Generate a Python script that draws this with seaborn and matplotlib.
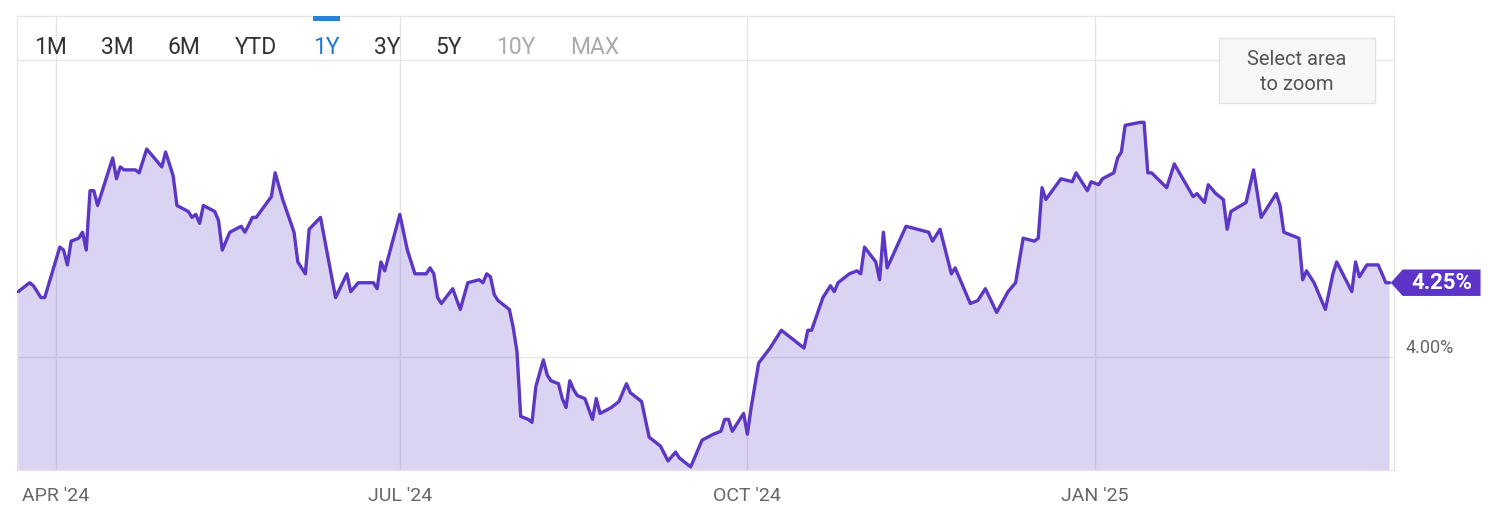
import matplotlib
matplotlib.use("Agg")
import matplotlib.pyplot as plt
from matplotlib.path import Path
from matplotlib.patches import Rectangle
from matplotlib import font_manager as fm
import seaborn as sns
import pandas as pd

# ---------------- data (10-year yield, %) ----------------
dates = [
    "2024-03-22", "2024-03-25", "2024-03-26", "2024-03-28", "2024-03-29",
    "2024-04-02", "2024-04-03", "2024-04-04", "2024-04-05", "2024-04-07",
    "2024-04-08", "2024-04-09", "2024-04-10", "2024-04-11", "2024-04-12",
    "2024-04-16", "2024-04-17", "2024-04-18", "2024-04-19", "2024-04-22",
    "2024-04-23", "2024-04-25", "2024-04-27", "2024-04-29", "2024-04-30",
    "2024-05-02", "2024-05-03", "2024-05-06", "2024-05-07", "2024-05-08",
    "2024-05-09", "2024-05-10", "2024-05-13", "2024-05-14", "2024-05-15",
    "2024-05-17", "2024-05-20", "2024-05-21", "2024-05-23", "2024-05-24",
    "2024-05-28", "2024-05-29", "2024-05-31", "2024-06-03", "2024-06-04",
    "2024-06-06", "2024-06-07", "2024-06-10", "2024-06-14", "2024-06-17",
    "2024-06-18", "2024-06-20", "2024-06-24", "2024-06-25", "2024-06-26",
    "2024-06-27", "2024-07-01", "2024-07-03", "2024-07-05", "2024-07-08",
    "2024-07-09", "2024-07-10", "2024-07-11", "2024-07-12", "2024-07-15",
    "2024-07-17", "2024-07-19", "2024-07-22", "2024-07-23", "2024-07-24",
    "2024-07-25", "2024-07-26", "2024-07-27", "2024-07-30", "2024-07-31",
    "2024-08-01", "2024-08-02", "2024-08-04", "2024-08-05", "2024-08-06",
    "2024-08-08", "2024-08-09", "2024-08-10", "2024-08-12", "2024-08-13",
    "2024-08-14", "2024-08-15", "2024-08-16", "2024-08-17", "2024-08-19",
    "2024-08-21", "2024-08-22", "2024-08-23", "2024-08-26", "2024-08-28",
    "2024-08-30", "2024-08-31", "2024-09-03", "2024-09-05", "2024-09-08",
    "2024-09-10", "2024-09-12", "2024-09-13", "2024-09-16", "2024-09-19",
    "2024-09-22", "2024-09-24", "2024-09-25", "2024-09-26", "2024-09-27",
    "2024-09-30", "2024-10-01", "2024-10-02", "2024-10-04", "2024-10-07",
    "2024-10-10", "2024-10-16", "2024-10-17", "2024-10-18", "2024-10-21",
    "2024-10-23", "2024-10-24", "2024-10-25", "2024-10-28", "2024-10-30",
    "2024-10-31", "2024-11-01", "2024-11-04", "2024-11-05", "2024-11-06",
    "2024-11-07", "2024-11-12", "2024-11-15", "2024-11-18", "2024-11-19",
    "2024-11-21", "2024-11-24", "2024-11-25", "2024-11-29", "2024-12-01",
    "2024-12-03", "2024-12-06", "2024-12-09", "2024-12-11", "2024-12-13",
    "2024-12-16", "2024-12-17", "2024-12-18", "2024-12-19", "2024-12-23",
    "2024-12-26", "2024-12-27", "2024-12-30", "2024-12-31", "2025-01-02",
    "2025-01-03", "2025-01-06", "2025-01-07", "2025-01-08", "2025-01-09",
    "2025-01-13", "2025-01-14", "2025-01-15", "2025-01-16", "2025-01-20",
    "2025-01-22", "2025-01-27", "2025-01-28", "2025-01-30", "2025-01-31",
    "2025-02-02", "2025-02-04", "2025-02-05", "2025-02-06", "2025-02-10",
    "2025-02-12", "2025-02-14", "2025-02-18", "2025-02-19", "2025-02-20",
    "2025-02-24", "2025-02-25", "2025-02-26", "2025-02-28", "2025-03-03",
    "2025-03-05", "2025-03-06", "2025-03-10", "2025-03-11", "2025-03-12",
    "2025-03-14", "2025-03-17", "2025-03-19", "2025-03-20",
]
yields = [
    4.22, 4.25, 4.24, 4.20, 4.20,
    4.37, 4.36, 4.31, 4.39, 4.40,
    4.42, 4.36, 4.56, 4.56, 4.51,
    4.67, 4.60, 4.64, 4.63, 4.63,
    4.62, 4.70, 4.67, 4.64, 4.69,
    4.61, 4.51, 4.49, 4.47, 4.48,
    4.45, 4.51, 4.49, 4.46, 4.36,
    4.42, 4.44, 4.42, 4.47, 4.47,
    4.54, 4.62, 4.53, 4.42, 4.32,
    4.28, 4.43, 4.47, 4.20, 4.28,
    4.22, 4.25, 4.25, 4.23, 4.32,
    4.29, 4.48, 4.36, 4.28, 4.28,
    4.30, 4.28, 4.20, 4.18, 4.23,
    4.16, 4.25, 4.26, 4.25, 4.28,
    4.27, 4.21, 4.19, 4.16, 4.10,
    4.02, 3.80, 3.79, 3.78, 3.90,
    3.99, 3.94, 3.92, 3.91, 3.86,
    3.83, 3.92, 3.89, 3.87, 3.86,
    3.79, 3.86, 3.81, 3.83, 3.85,
    3.91, 3.88, 3.85, 3.73, 3.70,
    3.65, 3.68, 3.66, 3.63, 3.72,
    3.74, 3.75, 3.79, 3.79, 3.75,
    3.81, 3.74, 3.83, 3.98, 4.03,
    4.09, 4.03, 4.09, 4.09, 4.20,
    4.24, 4.22, 4.25, 4.28, 4.29,
    4.28, 4.37, 4.32, 4.26, 4.42,
    4.30, 4.44, 4.43, 4.42, 4.39,
    4.43, 4.28, 4.30, 4.18, 4.19,
    4.23, 4.15, 4.22, 4.25, 4.40,
    4.39, 4.40, 4.57, 4.53, 4.60,
    4.59, 4.62, 4.56, 4.59, 4.58,
    4.60, 4.62, 4.67, 4.69, 4.78,
    4.79, 4.79, 4.62, 4.62, 4.57,
    4.65, 4.54, 4.55, 4.52, 4.58,
    4.55, 4.53, 4.43, 4.49, 4.52,
    4.63, 4.47, 4.55, 4.51, 4.42,
    4.40, 4.26, 4.29, 4.25, 4.16,
    4.28, 4.32, 4.22, 4.32, 4.27,
    4.31, 4.31, 4.25, 4.25,
]
tick_dates = ["2024-04-01", "2024-07-01", "2024-10-01", "2025-01-01"]
tick_labels = ["APR '24", "JUL '24", "OCT '24", "JAN '25"]
ytick_values = [4.0, 5.0]
ytick_labels = ["4.00%", ""]
range_buttons = ["1M", "3M", "6M", "YTD", "1Y", "3Y", "5Y", "10Y", "MAX"]

# ---------------- style ----------------
W, H = 1492, 519
LINE = "#5b37c4"
FLAG = "#5c34c8"
GRID = "#e6e6e6"
LABEL = "#666666"

sns.set_theme(style="white")
plt.rcParams["font.family"] = ["Roboto", "DejaVu Sans"]

names = {f.name for f in fm.fontManager.ttflist}
if "Liberation Sans Narrow" in names:
    NARROW = "Liberation Sans Narrow"
    btn_size, xt_size = 19, 16
else:
    NARROW = "Roboto"
    btn_size, xt_size = 16.5, 14

fig = plt.figure(figsize=(W / 100, H / 100), dpi=100)
fig.patch.set_facecolor("white")


def fx(px):
    return px / W


def fy(py):
    return 1 - py / H


ax = fig.add_axes([fx(17), fy(470), fx(1394) - fx(17), fy(16) - fy(470)])
ax.set_facecolor("white")

df = pd.DataFrame({"date": pd.to_datetime(dates), "yield": yields})

ax.fill_between(df["date"], df["yield"], 3.0, color=LINE, alpha=0.22,
                linewidth=0, zorder=2)
sns.lineplot(data=df, x="date", y="yield", ax=ax, color=LINE,
             linewidth=2.4, zorder=3)

ax.set_xlim(pd.Timestamp("2024-03-21 16:00"), pd.Timestamp("2025-03-21 04:00"))
ax.set_ylim(3.6195, 5.148)

ax.set_xticks(pd.to_datetime(tick_dates))
ax.set_xticklabels(tick_labels, fontfamily=NARROW, fontsize=xt_size, color=LABEL)
ax.set_yticks(ytick_values)
ax.set_yticklabels(ytick_labels, fontsize=13, color=LABEL)
ax.yaxis.tick_right()
for t in ax.get_yticklabels():
    t.set_verticalalignment("bottom")
ax.tick_params(axis="x", length=0, pad=12)
ax.tick_params(axis="y", length=0, pad=8, labelleft=False, labelright=True)
ax.set_xlabel("")
ax.set_ylabel("")

ax.grid(True, color=GRID, linewidth=1)
ax.set_axisbelow(True)
for s in ax.spines.values():
    s.set_color(GRID)
    s.set_linewidth(1)


# flag label for last value
def flag_box(x0, y0, width, height, mutation_size):
    padx = 0.38 * mutation_size
    pady = 0.1 * mutation_size
    x0 -= padx
    y0 -= pady
    width += 2 * padx
    height += 2 * pady
    tip = 0.45 * height
    verts = [(x0, y0), (x0 + width, y0), (x0 + width, y0 + height),
             (x0, y0 + height), (x0 - tip, y0 + height / 2), (x0, y0)]
    codes = [Path.MOVETO] + [Path.LINETO] * 4 + [Path.CLOSEPOLY]
    return Path(verts, codes)


last_date = df["date"].iloc[-1]
last_val = df["yield"].iloc[-1]
ax.annotate(f"{last_val:.2f}%", xy=(last_date, last_val), xytext=(52, 0),
            textcoords="offset pixels", ha="center", va="center",
            color="white", fontsize=16, fontweight="bold",
            bbox=dict(boxstyle=flag_box, fc=FLAG, ec="none"),
            annotation_clip=False, zorder=6)

# range selector buttons
btn_x = [51, 117, 184, 256, 326, 387, 449, 516, 595]
for lab, x in zip(range_buttons, btn_x):
    if lab == "1Y":
        col = "#1f7ad0"
    elif lab in ("10Y", "MAX"):
        col = "#aaaaaa"
    else:
        col = "#333333"
    fig.text(fx(x), fy(48), lab, ha="center", va="center", color=col,
             fontsize=btn_size, fontfamily=NARROW, zorder=5)
fig.add_artist(Rectangle((fx(313), fy(21)), fx(340) - fx(313), fy(16) - fy(21),
                         transform=fig.transFigure, color="#2a82d6", lw=0,
                         zorder=5))

# "Select area to zoom" box
fig.add_artist(Rectangle((fx(1219), fy(103)), fx(1375) - fx(1219),
                         fy(38) - fy(103), transform=fig.transFigure,
                         facecolor="#f7f7f7", edgecolor="#e3e3e3", lw=1,
                         zorder=4))
fig.text(fx(1297), fy(72), "Select area\nto zoom", ha="center", va="center",
         color="#555555", fontsize=14.5, linespacing=1.45, zorder=5)

fig.savefig("out.png", dpi=100, facecolor="white")
